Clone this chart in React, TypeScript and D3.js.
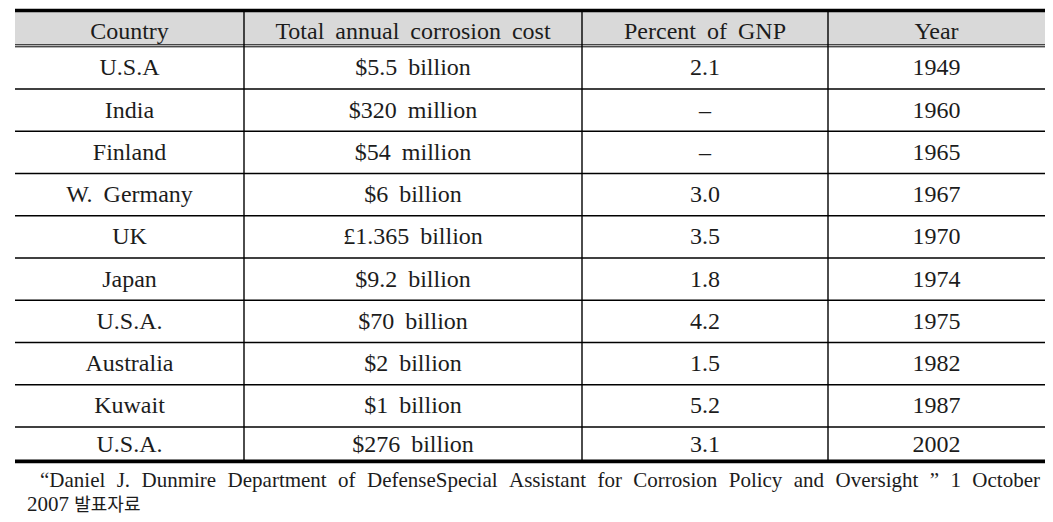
import React, { useEffect, useRef } from "react";
import * as d3 from "d3";

const headers = ["Country", "Total annual corrosion cost", "Percent of GNP", "Year"];
const countries = ["U.S.A", "India", "Finland", "W. Germany", "UK", "Japan", "U.S.A.", "Australia", "Kuwait", "U.S.A."];
const costs = ["$5.5 billion", "$320 million", "$54 million", "$6 billion", "£1.365 billion", "$9.2 billion", "$70 billion", "$2 billion", "$1 billion", "$276 billion"];
const gnpPercent = ["2.1", "–", "–", "3.0", "3.5", "1.8", "4.2", "1.5", "5.2", "3.1"];
const years = ["1949", "1960", "1965", "1967", "1970", "1974", "1975", "1982", "1987", "2002"];
const footnoteLine1 = "“Daniel J. Dunmire Department of DefenseSpecial Assistant for Corrosion Policy and Oversight ” 1 October";
const footnoteLine2Num = "2007 ";
const footnoteLine2Ko = "발표자료";

// layout
const W = 1053;
const H = 522;
const tableLeft = 15;
const tableRight = 1045;
const colWidths = [229, 338, 246, 217];
const tableTop = 10.5;
const headerBottom = 44.5;
const bodyTop = 46.7;
const rowStep = 42.25;
const tableBottom = 461.3;
const FONT = "Liberation Serif";
const TEXT = "#1c1c1c";

export default function App() {
  const footRef = useRef<SVGGElement>(null);

  const edges = [tableLeft, ...Array.from(d3.cumsum(colWidths), (v) => tableLeft + v)];
  const rowIdx = d3.range(countries.length);
  const y = d3
    .scaleBand<number>()
    .domain(rowIdx)
    .range([bodyTop, bodyTop + rowStep * rowIdx.length])
    .paddingInner(0)
    .paddingOuter(0);
  const columns = [countries, costs, gnpPercent, years];
  const colCenter = (i: number) => (edges[i] + edges[i + 1]) / 2;

  useEffect(() => {
    const g = d3.select(footRef.current);
    g.selectAll("*").remove();
    const words = footnoteLine1.split(" ");
    const x0 = 40;
    const x1 = 1040;
    const texts = g
      .selectAll("text.w")
      .data(words)
      .enter()
      .append("text")
      .attr("class", "w")
      .attr("y", 487)
      .style("font-family", FONT)
      .attr("font-size", 21)
      .attr("fill", TEXT)
      .text((d) => d);
    const widths: number[] = [];
    texts.each(function () {
      widths.push((this as SVGTextElement).getComputedTextLength());
    });
    const total = d3.sum(widths);
    const gap = (x1 - x0 - total) / (words.length - 1);
    let cx = x0;
    texts.each(function (_, i) {
      d3.select(this).attr("x", cx);
      cx += widths[i] + gap;
    });
    const t2 = g
      .append("text")
      .attr("x", 27)
      .attr("y", 511)
      .style("font-family", FONT)
      .attr("font-size", 21)
      .attr("fill", TEXT);
    t2.append("tspan").text(footnoteLine2Num);
    t2.append("tspan")
      .style("font-family", "Noto Sans CJK KR")
      .attr("font-size", 18)
      .text(footnoteLine2Ko);
  }, []);

  const textStyle = { fontFamily: FONT, fontSize: 24, wordSpacing: 5 } as React.CSSProperties;

  return (
    <svg
      width={W}
      height={H}
      style={{ position: "absolute", left: 0, top: 0, background: "#fff" }}
    >
      <rect x={0} y={0} width={W} height={H} fill="#fff" />
      {/* header background */}
      <rect
        x={tableLeft}
        y={tableTop}
        width={tableRight - tableLeft}
        height={headerBottom - tableTop}
        fill="#d9d9d9"
      />
      {/* header texts */}
      {headers.map((h, i) => (
        <text
          key={h}
          x={colCenter(i)}
          y={39}
          textAnchor="middle"
          style={textStyle}
          fill={TEXT}
        >
          {h}
        </text>
      ))}
      {/* body texts */}
      {rowIdx.map((r) => {
        const y0 = y(r) as number;
        const y1 = Math.min(y0 + y.bandwidth(), tableBottom);
        const cy = (y0 + y1) / 2;
        return columns.map((col, c) => (
          <text
            key={`${r}-${c}`}
            x={colCenter(c)}
            y={cy + 7.5}
            textAnchor="middle"
            style={textStyle}
            fill={TEXT}
          >
            {col[r]}
          </text>
        ));
      })}
      {/* row separator lines */}
      {rowIdx.slice(1).map((r) => (
        <line
          key={`h${r}`}
          x1={tableLeft}
          x2={tableRight}
          y1={y(r) as number}
          y2={y(r) as number}
          stroke="#000"
          strokeWidth={1.4}
        />
      ))}
      {/* header double line */}
      <line x1={tableLeft} x2={tableRight} y1={44.8} y2={44.8} stroke="#000" strokeWidth={1} />
      <line x1={tableLeft} x2={tableRight} y1={46.8} y2={46.8} stroke="#000" strokeWidth={1} />
      {/* vertical lines */}
      {edges.slice(1, -1).map((x, i) => (
        <line
          key={`v${i}`}
          x1={x}
          x2={x}
          y1={tableTop}
          y2={tableBottom}
          stroke="#000"
          strokeWidth={1.4}
        />
      ))}
      {/* thick top/bottom borders */}
      <line x1={tableLeft} x2={tableRight} y1={tableTop} y2={tableTop} stroke="#000" strokeWidth={3.6} />
      <line x1={tableLeft} x2={tableRight} y1={tableBottom} y2={tableBottom} stroke="#000" strokeWidth={3.8} />
      <g ref={footRef} />
    </svg>
  );
}
